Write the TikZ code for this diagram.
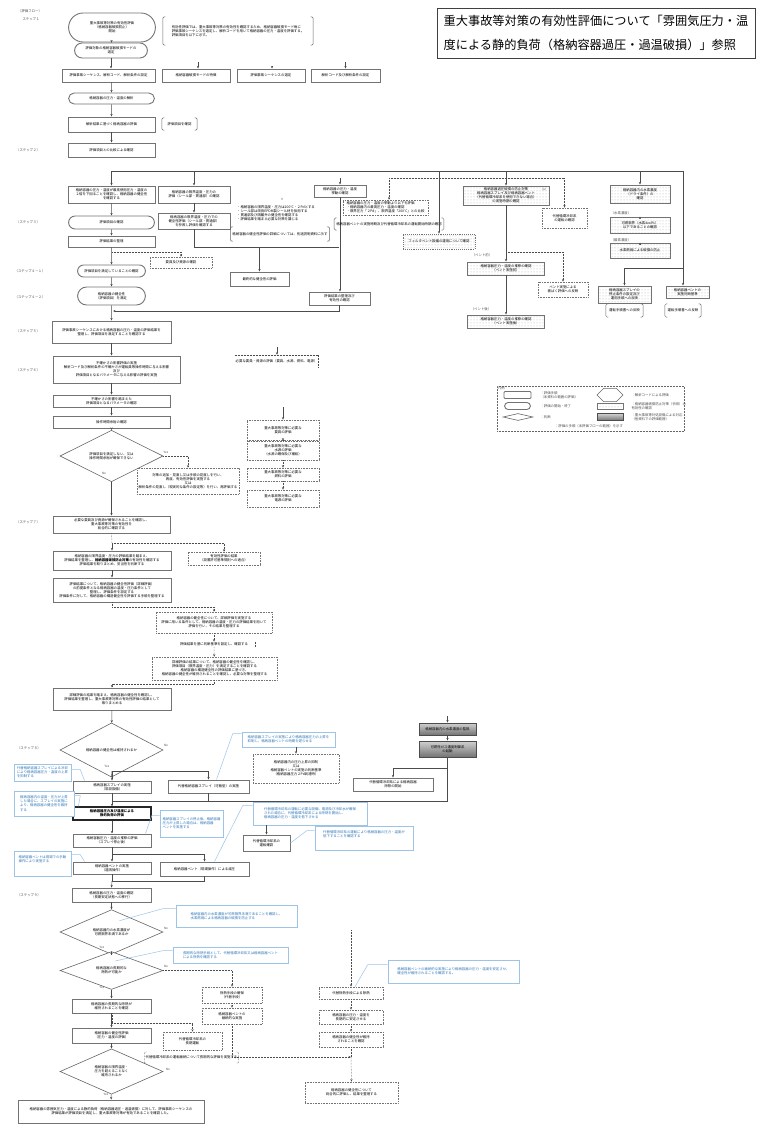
\documentclass[tikz,border=0pt]{standalone}
\usepackage{fontspec}
\setmainfont{Noto Sans CJK JP}
\usepackage{xcolor}
\usepackage{tikz}
\usetikzlibrary{arrows.meta,positioning,shapes.geometric,shapes.misc,patterns,calc}

\definecolor{cline}{RGB}{157,195,230}
\definecolor{ctext}{RGB}{46,117,182}

\tikzset{
  sz/.style 2 args={minimum width=#1pt, minimum height=#2pt},
  box/.style={draw=black!55, line width=0.9pt, fill=white, align=center, inner sep=0.6pt},
  term/.style={box, rounded rectangle},
  dbox/.style={box, draw=black!55, line width=0.6pt, densely dotted},
  stip/.style={box, pattern=dots, pattern color=black!32},
  grad/.style={box, draw=black!70, top color=black!18, bottom color=black!55},
  dia/.style={diamond, draw=black!60, line width=0.6pt, fill=white, align=center, inner sep=0pt},
  callout/.style={draw=cline, line width=0.6pt, fill=white, text=ctext, align=left, inner sep=1.2pt},
  lead/.style={draw=cline, line width=0.5pt},
  arr/.style={->, draw=black!70, line width=0.5pt},
  darr/.style={arr, densely dotted},
  ln/.style={draw=black!70, line width=0.5pt},
  dln/.style={ln, densely dotted},
  lbl/.style={text=black!70, align=left},
  yn/.style={font=\fontsize{3}{3.6}\selectfont, text=black!70}
}

\newcommand\parens[1]{%
  \draw[black!60, line width=0.5pt, rounded corners=1.5pt]
    ([xshift=2.5pt]#1.north west) -- (#1.north west) -- (#1.south west) -- ([xshift=2.5pt]#1.south west);
  \draw[black!60, line width=0.5pt, rounded corners=1.5pt]
    ([xshift=-2.5pt]#1.north east) -- (#1.north east) -- (#1.south east) -- ([xshift=-2.5pt]#1.south east);}

\begin{document}
\begin{tikzpicture}[
  x=1pt, y=-1pt,
  font=\fontsize{3.4}{4.1}\selectfont,
  >={Stealth[length=2.6pt,width=2.2pt]}
]
\useasboundingbox (0,0) rectangle (757,1124);

%% title
\node[draw=black!75, line width=0.7pt, align=left, inner xsep=6pt,
  font=\fontsize{12.2}{24}\selectfont, sz={318}{50}] (title) at (596,33)
  {重大事故等対策の有効性評価について「雰囲気圧力・温\\度による静的負荷（格納容器過圧・過温破損）」参照};

%% step labels
\node[lbl] (s0) at (30,11) {（評価フロー）};
\node[lbl] (s1) at (31,19) {ステップ１};
\node[lbl] (s2) at (28,150) {（ステップ２）};
\node[lbl] (s3) at (28,222) {（ステップ３）};
\node[lbl] (s41) at (30,271) {（ステップ４－１）};
\node[lbl] (s42) at (30,297) {（ステップ４－２）};
\node[lbl] (s5) at (28,331) {（ステップ５）};
\node[lbl] (s6) at (28,370) {（ステップ６）};
\node[lbl] (s7) at (28,522) {（ステップ７）};
\node[lbl] (s8) at (29,748) {（ステップ８）};
\node[lbl] (s9) at (29,895) {（ステップ９）};

%% top column
\node[term, sz={88}{29}] (t1) at (112,27.5) {重大事故等対策の有効性評価\\（格納容器破損防止）\\開始};
\node[sz={150}{28}, align=left, inner sep=3pt] (n1) at (238,31)
  {有効性評価では、重大事故等対策の有効性を確認するため、格納容器破損モード毎に\\評価事故シーケンスを選定し、解析コードを用いて格納容器の圧力・温度を評価する。\\評価項目を以下に示す。};
\parens{n1}
\node[term, sz={74}{15}] (t2) at (111,50.5) {評価対象の格納容器破損モードの\\選定};
\node[box, sz={93}{13}] (b1) at (108.5,75.5) {評価事故シーケンス、解析コード、解析条件の設定};
\node[box, sz={68}{13}] (b2) at (196,75.5) {格納容器破損モードの特徴};
\node[box, sz={68}{13}] (b3) at (271,75.5) {評価事故シーケンスの選定};
\node[box, sz={69}{13}] (b4) at (345.5,75.5) {解析コード及び解析条件の設定};
\node[term, sz={87}{11}] (t3) at (111.5,98.5) {格納容器の圧力・温度の解析};
\node[box, sz={87}{15}] (b5) at (111.5,124.5) {解析結果に基づく格納容器の評価};
\node[sz={35}{12}, inner sep=2pt] (n2) at (179.5,124) {評価項目\\を確認};
\parens{n2}
\node[box, sz={87}{14}] (b6) at (111.5,150) {評価項目との比較による確認};
\coordinate (n1b) at (198,62);
\coordinate (n1c) at (272,66);
\coordinate (n1d) at (345.5,62);
\draw[arr] (t1) -- (t2);
\draw[arr] (t2.south) -- (t2.south |- b1.north);
\draw[arr] (b1.south -| t3) -- (t3);
\draw[arr] (t3) -- (b5);
\draw[arr] (b5) -- (b6);
\draw[arr] (n1b) -- (n1b |- b2.north);
\draw[arr] (n1c) -- (n1c |- b3.north);
\draw[arr] (n1d) -- (b4.north);

%% bus
\coordinate (bus0) at (111,171);
\coordinate (bus1) at (683,171);
\draw[ln, line width=0.8pt] (bus0) -- (bus1);

%% left branch
\node[box, sz={87}{17}] (A) at (111.5,194.5) {格納容器の圧力・温度が最高使用圧力・温度の\\２倍を下回ることを確認し、格納容器の健全性\\を確認する};
\node[term, sz={87}{13}] (st3) at (111.5,222.5) {評価項目の確認};
\node[box, sz={87}{11}] (A2) at (111.5,241.5) {評価結果の整理};
\node[dbox, sz={62}{11}] (chk) at (181,262.5) {要員及び資源の確認};
\node[term, sz={69}{12}] (st4) at (111.5,271) {評価項目を満足していることの確認};
\node[term, sz={69}{18}] (st5) at (111.5,296) {格納容器の健全性\\（評価項目）を満足};
\node[box, sz={119}{22}] (F) at (111.5,332) {評価事故シーケンスにおける格納容器の圧力・温度の評価結果を\\整理し、評価項目を満足することを確認する};
\coordinate (aj) at (112,252);
\coordinate (fj) at (113,311);
\draw[arr] (A.north |- bus0) -- (A.north);
\draw[arr] (A) -- (st3);
\draw[arr] (st3) -- (A2);
\draw[arr] (A2) -- (st4);
\draw[darr] (aj) -| (chk.north);
\draw[arr] (st4) -- (st5);
\draw[arr] (st5) -- (F);

%% second branch
\node[box, sz={72}{17}] (B) at (194,194.5) {格納容器の限界温度・圧力の\\評価（シール部・貫通部）の確認};
\node[box, sz={72}{16}] (B2) at (194,221) {格納容器の限界温度・圧力での\\健全性評価（シール部・貫通部）\\を参照し評価を確認する};
\node[yn] (star) at (282,199) {＊};
\node[align=left, inner sep=0pt] (tb) at (276,213.5) {・格納容器の限界温度・圧力は200℃・２Pdとする\\・シール部は改良EPDM製シール材を採用する\\・貫通部及び隔離弁の健全性を確認する\\・評価結果を踏まえ必要な対策を講じる};
\node[sz={80}{14}, inner sep=2pt] (n3) at (280,234) {格納容器の健全性評価の詳細については、\\別途説明資料に示す};
\parens{n3}
\node[box, sz={59}{14}] (C) at (259.5,279) {最終的な健全性の評価};
\node[box, sz={52}{12}] (D) at (340,191) {格納容器の圧力・温度\\挙動の確認};
\node[box, sz={61}{13}] (E) at (339.5,298.5) {評価結果の整理及び\\有効性の確認};
\coordinate (bj) at (339,247);
\coordinate (dstub) at (340,178);
\draw[arr] (B.north |- bus0) -- (B.north);
\draw[arr] (B) -- (B2);
\draw[ln] (B2.south) |- (bj);
\draw[arr] (C.north |- bj) -- (C.north);
\draw[arr] (dstub) -- (D.north);
\draw[arr] (D.south) -- (D.south |- E.north);
\draw[arr] (E.south) |- (fj);

%% seal and vent
\node[dbox, sz={85}{15}, align=left, inner xsep=2pt] (seal) at (385.5,207.5) {格納容器の圧力・温度の挙動より以下を評価\\・格納容器内の最高圧力・温度の確認\\・限界圧力「２Pd」、限界温度「200℃」との比較};
\node[sz={82}{12}, inner sep=2pt] (n4) at (389,224) {格納容器ベントの実施時期及び代替循環冷却系の\\運転開始時期の確認};
\parens{n4}
\node[stip, densely dotted, line width=0.6pt, sz={72}{15}] (vent) at (439,241.5) {フィルタベント設備の運用について確認};
\node[stip, sz={86}{19}, inner sep=0.3pt] (G) at (506,195.5) {格納容器過圧破損の防止対策\\格納容器スプレイ及び格納容器ベント\\（代替循環冷却系を使用できない場合）\\の実施時期の確認};
\node[yn] (Ga) at (544,190) {(a)};
\node[dbox, sz={45}{20}] (cool) at (564.5,218) {代替循環冷却系\\の運転の確認};
\node[lbl] (lbH) at (482,255) {（ベント前）};
\node[stip, sz={77}{13}] (H) at (506,268.5) {格納容器圧力・温度の推移の確認\\（ベント実施前）};
\node[lbl] (lbI) at (481,309) {（ベント後）};
\node[stip, sz={77}{13}] (I) at (506,321.5) {格納容器圧力・温度の推移の確認\\（ベント実施後）};
\node[dbox, sz={50}{15}] (rel) at (563,289.5) {ベント実施による\\被ばく評価への反映};
\coordinate (dj) at (389,178);
\coordinate (gj) at (506,252);
\draw[arr] (vent.north |- bus0) -- (vent.north);
\draw[arr] (G.north |- bus0) -- (G.north);
\draw[darr] (dj) -- (dj |- seal.north);
\draw[darr] (dj) -| (cool.north);
\draw[arr] (G) -- (H);
\draw[arr] (H) -- (I);
\draw[darr] (gj) -| (rel.north);

%% hydrogen column
\node[stip, sz={60}{18}] (J) at (640,194) {格納容器内の水素濃度\\（ドライ条件）の\\確認};
\node[lbl] (lbK) at (621,213) {（水素濃度）};
\node[stip, sz={60}{16}] (K) at (640,225) {可燃限界（水素4vol\%）\\以下であることの確認};
\node[lbl] (lbL) at (621,240) {（酸素濃度）};
\node[stip, sz={60}{15}] (L) at (640,250.5) {水素燃焼による破損の防止};
\node[stip, sz={53}{17}] (M1) at (624.5,294.5) {格納容器スプレイの\\停止条件の設定及び\\運用手順への反映};
\node[stip, sz={43}{12}] (M2) at (687.5,292) {格納容器ベントの\\実施判断基準};
\node[sz={37}{13}, inner sep=2pt] (p1) at (624.5,310.5) {運転手順書\\への反映};
\parens{p1}
\node[sz={36}{13}, inner sep=2pt] (p2) at (683,310.5) {運転手順書\\への反映};
\parens{p2}
\coordinate (mj) at (683,268);
\draw[arr] (J.north |- bus0) -- (J.north);
\draw[arr] (lbK.south -| K.north) -- (K.north);
\draw[arr] (lbL.south -| L.north) -- (L.north);
\draw[arr] (bus1) -- (bus1 |- M2.north);
\draw[arr] (mj) -| (M1.north);

%% uncertainty
\node[box, sz={127}{27}] (N) at (116.5,369.5) {不確かさの影響評価の実施\\解析コード及び解析条件の不確かさが運転員等操作時間に与える影響\\及び\\評価項目となるパラメータに与える影響の評価を実施};
\node[box, sz={117}{12}] (O) at (111.5,401) {不確かさの影響を踏まえた\\評価項目となるパラメータの確認};
\node[box, sz={117}{12}] (P) at (111.5,422) {操作時間余裕の確認};
\node[dia, sz={103}{26}] (Q) at (111.5,456) {評価項目を満足しない、又は\\操作時間余裕が確保できない};
\node[yn] (Qy) at (166,452) {Yes};
\node[yn] (Qn) at (104,473) {No};
\node[dbox, sz={102}{26}] (R) at (188,481) {対策の追加・見直し又は手順の見直しを行い、\\再度、有効性評価を実施する\\又は\\解析条件の見直し（現実的な条件の設定等）を行い、再評価する};
\node[box, sz={117}{17}] (S) at (111.5,524.5) {必要な要員及び資源が確保されることを確認し、\\重大事故等対策の有効性を\\総合的に確認する};
\draw[arr] (F.south) -- (F.south |- N.north);
\draw[arr] (O.north |- N.south) -- (O.north);
\draw[arr] (O) -- (P);
\draw[arr] (P) -- (Q);
\draw[darr] (Q.east) -| (R.north);
\draw[arr] (Q) -- (S);

%% resources
\node[sz={73}{13}, inner sep=1pt] (pre) at (276.5,361.5) {必要な要員・資源の評価\\（要員、水源、燃料、電源）};
\draw[dln] (pre.north west) -- (pre.north east) -- (pre.south east);
\node[dbox, sz={72}{20}] (T1) at (283,430) {重大事故等対策に必要な\\要員の評価};
\node[dbox, sz={72}{19}] (T2) at (283,450.5) {重大事故等対策に必要な\\水源の評価\\（水源の確保及び補給）};
\node[dbox, sz={72}{13}] (T3) at (283,474.5) {重大事故等対策に必要な\\燃料の評価};
\node[dbox, sz={72}{17}] (T4) at (283,498.5) {重大事故等対策に必要な\\電源の評価};
\coordinate (prest) at (277,347);
\coordinate (t1st) at (283,407);
\draw[arr] (prest) -- (pre.north -| prest);
\draw[arr] (t1st) -- (T1.north);
\draw[darr] (T1) -- (T2);
\draw[darr] (T2) -- (T3);
\draw[darr] (T3) -- (T4);

%% legend
\node[draw=black!60, densely dotted, line width=0.5pt, sz={187}{45}] (leg) at (590.5,408.5) {};
\node[lbl, anchor=north west, inner sep=1pt] (legt) at (leg.north west) {凡例};
\node[box, rounded corners=1pt, sz={27}{7}] (lg1) at (517.5,395) {};
\node[lbl, anchor=west] (lg1t) at (537,395) {：評価手順\\（本資料の範囲の評価）};
\node[term, sz={27}{7}] (lg2) at (517.5,406) {};
\node[lbl, anchor=west] (lg2t) at (537,406) {：評価の開始・終了};
\node[dia, sz={30}{7}] (lg3) at (518,417) {};
\node[lbl, anchor=west] (lg3t) at (537,417) {：判断};
\node[chamfered rectangle, draw=black!60, line width=0.6pt, sz={26}{6}] (lg4) at (610,395) {};
\node[lbl, anchor=west] (lg4t) at (628,395) {：解析コードによる評価};
\node[stip, sz={26}{6}] (lg5) at (610,406) {};
\node[lbl, anchor=west] (lg5t) at (628,406) {：格納容器破損防止対策（手順）の\\有効性の確認};
\node[grad, sz={26}{7}] (lg6) at (610,417) {};
\node[lbl, anchor=west] (lg6t) at (628,417) {：重大事故等対処設備による対応\\（他資料での評価範囲）};
\node[lbl] (legc) at (589,426.5) {：評価の手順（本評価フローの範囲）を示す};

%% detailed evaluation
\node[dbox, sz={72}{13}] (U) at (224,558.5) {有効性評価の結果\\（設置許可基準規則への適合）};
\node[box, sz={118}{19}] (V) at (112,560.5) {格納容器の限界温度・圧力の評価結果を踏まえ、\\評価結果を整理し、\textbf{格納容器破損防止対策}の有効性を確認する\\評価結果を取りまとめ、妥当性を判断する};
\node[box, sz={118}{24}] (W) at (112,590) {評価結果について、格納容器の健全性評価（詳細評価）\\の前提条件となる格納容器の温度・圧力条件として\\整理し、評価条件を設定する\\評価条件に対して、格納容器の構造健全性を評価する手順を整理する};
\node[dbox, sz={116}{21}] (X) at (214,622.5) {格納容器の健全性について、詳細評価を実施する\\評価に用いる条件として、格納容器の温度・圧力の評価結果を用いて\\評価を行い、その結果を整理する};
\node[inner sep=1pt] (Y) at (214,644.5) {評価結果を基に判断基準を\\設定し、確認する};
\draw[dln] ([xshift=6pt]Y.north east) -- ([xshift=6pt]Y.south east);
\node[dbox, sz={125}{23}] (Z) at (214.5,668.5) {詳細評価の結果について、格納容器の健全性を確認し、\\評価項目（限界温度・圧力）を満足することを確認する\\格納容器の構造健全性の評価結果に基づき、\\格納容器の健全性が維持されることを確認し、必要な対策を整理する};
\node[box, sz={118}{22}] (AA) at (112,699) {詳細評価の結果を踏まえ、格納容器の健全性を確認し、\\評価結果を整理し、重大事故等対策の有効性評価の結果として\\取りまとめる};
\coordinate (sj) at (112,543);
\coordinate (wj) at (112,607);
\coordinate (zj) at (112,684);
\draw[dln] (S.south) -- (sj);
\draw[darr] (sj) -| (U.north);
\draw[arr] (sj) -- (V.north);
\draw[arr] (V) -- (W);
\draw[dln] (W.south) -- (wj);
\draw[darr] (wj) -| (X.north);
\draw[darr] (X) -- (Y);
\draw[darr] (Y) -- (Z);
\draw[dln] (Z.south) |- (zj);
\draw[darr] (zj) -- (AA.north);

%% static load evaluation
\node[dia, sz={103}{24}] (BB) at (111.5,750) {格納容器の健全性は維持されるか};
\node[yn] (BBn) at (166,745) {No};
\node[yn] (BBy) at (107,766) {Yes};
\node[box, sz={81}{13}] (CC) at (208.5,786.5) {代替格納容器スプレイ（可搬型）の実施};
\node[box, sz={78}{12}] (DD) at (112,787) {格納容器スプレイの実施\\（常設設備）};
\node[box, sz={78}{13}, line width=1.3pt, draw=black!85, font=\fontsize{3.4}{4.1}\selectfont\bfseries] (EE) at (112,813.5) {格納容器圧力及び温度による\\静的負荷の評価};
\node[box, sz={78}{13}] (FF) at (112,840.5) {格納容器圧力・温度の推移の評価\\（スプレイ停止後）};
\node[box, sz={89}{14}] (GG) at (204.5,869) {格納容器ベント（現場操作）による減圧};
\node[box, sz={78}{12}] (HH) at (112,868) {格納容器ベントの実施\\（遠隔操作）};
\node[box, sz={79}{14}] (II) at (111.5,895) {格納容器の圧力・温度の確認\\（長期安定状態への移行）};
\node[dbox, sz={86}{29}] (JJ) at (296,768.5) {格納容器内の圧力上昇の抑制\\又は\\格納容器ベントの実施の判断基準\\（格納容器圧力２Pd到達時）};
\node[box, sz={47}{16}] (KK) at (266.5,843) {代替循環冷却系の\\運転確認};
\node[box, sz={80}{13}] (LL) at (393,784.5) {代替循環冷却系による格納容器\\除熱の開始};
\node[grad, sz={57}{12}] (MM) at (447.5,729) {格納容器内の水素濃度の監視};
\node[grad, sz={57}{16}] (NN) at (447.5,749) {可燃性ガス濃度制御系\\の起動};
\coordinate (bbj) at (112,771);
\coordinate (ej) at (112,801);
\coordinate (nj) at (447.5,768);
\coordinate (mmst) at (447.5,716);
\coordinate (fj2) at (112,854);
\coordinate (hj) at (112,881);
\draw[arr] (AA) -- (BB);
\draw[ln] (BB.south) -- (bbj);
\draw[arr] (bbj) -- (DD.north);
\draw[arr] (bbj) -| (CC.north);
\draw[ln] (DD.south) -- (ej);
\draw[ln] (CC.south) -- (CC.south |- ej);
\draw[ln] (NN.south) |- (ej);
\draw[arr] (nj) -| (LL.north);
\draw[arr] (ej) -- (EE.north);
\draw[arr] (mmst) -- (MM.north);
\draw[arr] (MM) -- (NN);
\draw[arr] (EE) -- (FF);
\draw[ln] (FF.south) -- (fj2);
\draw[arr] (fj2) -- (HH.north);
\draw[arr] (fj2) -| (GG.north);
\draw[ln] (GG.south) |- (hj);
\draw[ln] (HH.south) -- (hj);
\draw[arr] (hj) -- (II.north);

%% callouts
\node[callout, sz={57}{17}] (bl1) at (42.5,772.5) {代替格納容器スプレイによる冷却\\により格納容器圧力・温度の上昇\\を抑制する};
\node[callout, sz={60}{25}] (bl2) at (44,803.5) {格納容器内の温度・圧力が上昇\\した場合に、スプレイの実施に\\より、格納容器の健全性を維持\\する};
\node[callout, sz={63}{27}] (bl3) at (191.5,823.5) {格納容器スプレイの停止後、格納容器\\圧力が上昇した場合は、格納容器\\ベントを実施する};
\node[callout, sz={57}{25}] (bl4) at (42.5,863.5) {格納容器ベントは現場での手動\\操作により実施する\\ \\ };
\node[callout, sz={93}{15}] (bl5) at (288.5,739.5) {格納容器スプレイの実施により格納容器圧力の上昇を\\抑制し、格納容器ベントの時期を遅らせる};
\node[callout, sz={114}{23}] (bl6) at (310,813.5) {代替循環冷却系の運転に必要な設備、電源及び冷却水が確保\\された場合に、代替循環冷却系による除熱を開始し、\\格納容器の圧力・温度を低下させる};
\node[callout, sz={98}{24}] (bl7) at (364,838) {代替循環冷却系の運転により格納容器の圧力・温度が\\低下することを確認する\\ \\ };
\draw[lead] ([yshift=-6pt]bl1.north east) -- ++(9,0) -- ([xshift=12pt]DD.north west);
\draw[lead] ([yshift=-5pt]bl2.north east) -- ++(6,0) -- ([xshift=6pt]EE.north west);
\draw[lead] ([yshift=-6pt]bl3.north west) -- ++(-8,0) -- ([xshift=-6pt]FF.north east);
\draw[lead] ([yshift=-4pt]bl4.north east) -- ++(9,0) -- ([xshift=12pt]HH.north west);
\draw[lead] ([yshift=-2pt]bl5.north west) -- ++(-9,0) -- ([xshift=8pt]CC.north);
\draw[lead] ([yshift=-4pt]bl6.north west) -- ++(-10,0) -- ([xshift=10pt]GG.north);
\draw[lead] ([yshift=-5pt]bl7.north west) -- ++(-8,0) -- (KK.east);
\draw[arr] (JJ.north |- bl5.south) -- (JJ.north);
\draw[arr] (KK.north |- bl6.south) -- (KK.north);

%% long term
\node[dia, sz={103}{30}] (OO) at (111.5,932) {格納容器内の水素濃度が\\可燃限界未満であるか};
\node[yn] (OOn) at (166,928) {No};
\node[yn] (OOy) at (102,947) {Yes};
\node[callout, sz={121}{22}] (bl8) at (236.5,916) {格納容器内の水素濃度が可燃限界未満であることを確認し、\\水素燃焼による格納容器の破損を防止する};
\node[dia, sz={103}{31}] (PP) at (111.5,970.5) {格納容器の長期的な\\除熱が可能か};
\node[yn] (PPn) at (166,966) {No};
\node[yn] (PPy) at (102,987) {Yes};
\node[callout, sz={115}{16}] (bl9) at (230.5,955) {長期的な除熱手段として、代替循環冷却系又は格納容器ベント\\による除熱を確認する};
\node[dbox, sz={60}{16}] (QQ) at (232,995) {除熱手段の確保\\（代替手段）};
\node[dbox, sz={60}{16}] (RR) at (232,1016) {格納容器ベントの\\継続的な実施};
\node[box, sz={79}{14}] (WW) at (111.5,1006) {格納容器の長期的な除熱が\\維持されることを確認};
\node[dbox, sz={59}{18}] (XX) at (192.5,1041) {代替循環冷却系の\\長期運転};
\node[sz={71}{11}, inner sep=1pt] (XXt) at (191.5,1057.5) {代替循環冷却系の運転継続について\\長期的な評価を実施する};
\draw[dln, rounded corners=1pt] ([xshift=2pt]XXt.north west) -- (XXt.north west) -- (XXt.south west) -- ([xshift=2pt]XXt.south west);
\draw[dln, rounded corners=1pt] ([xshift=-2pt]XXt.north east) -- (XXt.north east) -- (XXt.south east) -- ([xshift=-2pt]XXt.south east);
\node[box, sz={79}{15}] (YY) at (111.5,1035.5) {格納容器の健全性評価\\（圧力・温度の評価）};
\node[dia, sz={103}{37}] (ZZ) at (111.5,1071.5) {格納容器の限界温度・\\圧力を超えることなく\\維持されるか};
\node[yn] (ZZn) at (168,1069) {No};
\node[yn] (ZZy) at (106,1094) {Yes};
\node[box, sz={186}{23}] (fin) at (111,1111.5) {格納容器の雰囲気圧力・温度による静的負荷（格納容器過圧・過温破損）に対して、評価事故シーケンスの\\評価結果が評価項目を満足し、重大事故等対策が有効であることを確認した。};
\node[dbox, sz={64}{12}] (SS) at (351,993) {代替除熱手段による除熱};
\node[dbox, sz={64}{14}] (TT) at (351,1017) {格納容器の圧力・温度を\\長期的に安定させる};
\node[dbox, sz={64}{15}] (UU) at (351,1039.5) {格納容器の健全性が維持\\されることを確認};
\node[dbox, sz={93}{21}] (VV) at (351.5,1092.5) {格納容器の健全性について\\総合的に評価し、結果を整理する};
\node[callout, sz={131}{23}] (bl10) at (453.5,971.5) {格納容器ベントの継続的な実施により格納容器の圧力・温度を安定させ、\\健全性が維持されることを確認する。};
\coordinate (xj) at (112,1023);
\coordinate (vj) at (351,1057);
\coordinate (sst) at (351,930);
\draw[arr] (II) -- (OO);
\draw[arr] (OO) -- (PP);
\draw[arr] (PP) -- (WW);
\draw[arr] (WW) -- (YY);
\draw[arr] (YY) -- (ZZ);
\draw[arr] (ZZ) -- (fin);
\draw[darr] (PP.east) -| (QQ.north);
\draw[darr] (QQ) -- (RR);
\draw[darr] (RR.south) |- (vj);
\draw[dln] (WW.south -| xj) -- (xj);
\draw[darr] (xj) -| (XX.north);
\draw[darr] (sst) -- (SS.north);
\draw[darr] (SS) -- (TT);
\draw[darr] (TT) -- (UU);
\draw[dln] (UU.south) -- (vj);
\draw[darr] (vj) -- (VV.north);
\draw[lead] ([yshift=-4pt]bl8.north west) -- ++(-13,0) -- ([xshift=-18pt]OO.north east);
\draw[lead] ([yshift=-4pt]bl9.north west) -- ++(-10,0) -- ([xshift=-22pt]PP.north east);
\draw[lead] ([yshift=-5pt]bl10.north west) -- ++(-20,0) -- ([xshift=4pt]SS.north);
\end{tikzpicture}
\end{document}
